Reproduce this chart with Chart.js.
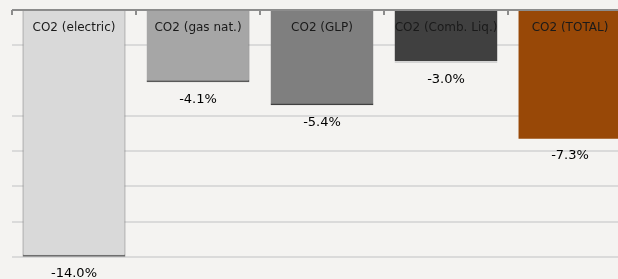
<!DOCTYPE html>
<html>
<head>
<meta charset="utf-8">
<script src="https://cdn.jsdelivr.net/npm/chart.js"></script>
<style>
  html, body { margin: 0; padding: 0; background: #f4f3f1; overflow: hidden; }
  #wrap { position: relative; width: 640px; height: 300px; }
</style>
</head>
<body>
<div id="wrap"><canvas id="chart_co2"></canvas></div>
<script>
// data
const categories = ['CO2 (electric)', 'CO2 (gas nat.)', 'CO2 (GLP)', 'CO2 (Comb. Liq.)', 'CO2 (TOTAL)']
const values = [-14.0, -4.1, -5.4, -3.0, -7.3]
const barColors = ['#d9d9d9', '#a6a6a6', '#7f7f7f', '#404040', '#984807']
const edgeColors = ['#6e6e6e', '#595959', '#404040', '#d4d4d4', '#984807']

// etiquetas dentro y debajo de las barras
const labelPlugin = {
  id: 'labels',
  afterDatasetsDraw(chart){
    const ctx = chart.ctx
    const meta = chart.getDatasetMeta(0)
    const area = chart.chartArea
    const y0 = chart.scales.y.getPixelForValue(0)

    // eje en cero con marcas
    ctx.save()
    ctx.strokeStyle = '#8c8c8c'
    ctx.lineWidth = 2
    ctx.beginPath()
    ctx.moveTo(area.left, y0)
    ctx.lineTo(area.right, y0)
    const w = (area.right - area.left) / categories.length
    for(let i = 0; i <= categories.length; i++){
      const x = Math.round(area.left + i * w)
      ctx.moveTo(x, y0)
      ctx.lineTo(x, y0 + 5)
    }
    ctx.stroke()

    ctx.textAlign = 'center'
    ctx.textBaseline = 'middle'
    meta.data.forEach((bar, i) => {
      ctx.fillStyle = '#1a1a1a'
      ctx.font = '12px "DejaVu Sans"'
      ctx.fillText(categories[i], bar.x, y0 + 18)
      ctx.fillStyle = '#000'
      ctx.font = '13px "DejaVu Sans"'
      ctx.fillText(values[i].toFixed(1) + '%', bar.x, bar.y + 17)
    })
    ctx.restore()
  }
}

new Chart(document.getElementById('chart_co2'), {
  type: 'bar',
  data: {
    labels: categories,
    datasets: [{
      data: values,
      backgroundColor: barColors,
      borderColor: edgeColors,
      borderWidth: [
        {left: 1, right: 1, bottom: 2},
        {left: 0, right: 1, bottom: 2},
        {left: 0, right: 0, bottom: 2},
        {left: 0, right: 0, bottom: 2},
        0
      ],
      borderSkipped: 'start',
      barPercentage: 0.83,
      categoryPercentage: 1
    }]
  },
  options: {
    responsive: true,
    maintainAspectRatio: false,
    animation: false,
    layout: { padding: { top: 10, left: 12, right: 8, bottom: 8 } },
    plugins: {
      legend: { display: false },
      tooltip: { enabled: false }
    },
    scales: {
      x: { display: false },
      y: {
        min: -16,
        max: 0,
        ticks: { display: false, stepSize: 2 },
        border: { display: false },
        grid: {
          drawTicks: false,
          lineWidth: 2,
          color: c => (c.tick.value === 0 || c.tick.value === -4) ? 'rgba(0,0,0,0)' : '#dadada'
        }
      }
    }
  },
  plugins: [labelPlugin]
})
</script>
</body>
</html>
